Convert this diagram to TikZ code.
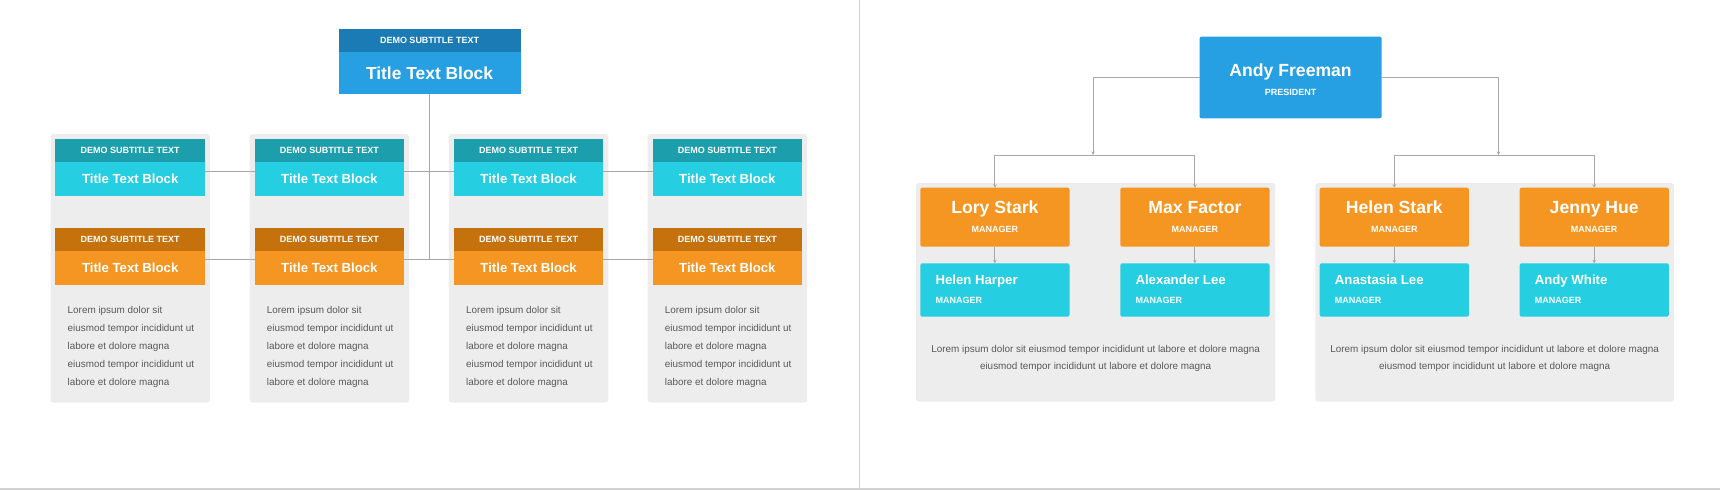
\documentclass[tikz,border=0pt]{standalone}
\usepackage{fontspec}
\setmainfont{Liberation Sans}
\usetikzlibrary{arrows.meta}

\definecolor{bluemain}{HTML}{26A0E2}
\definecolor{blueband}{HTML}{1A7BB5}
\definecolor{cyanmain}{HTML}{25CEE0}
\definecolor{cyanband}{HTML}{1C9EAC}
\definecolor{orangemain}{HTML}{F49621}
\definecolor{orangeband}{HTML}{C5710C}
\definecolor{panelgray}{HTML}{EDEDED}
\definecolor{linegray}{HTML}{A8A8A8}
\definecolor{divgray}{HTML}{D2D2D2}
\definecolor{loremgray}{HTML}{595959}

\newcommand\demosubfont{\fontsize{9}{11}\selectfont\bfseries}
\newcommand\blocktitlefont{\fontsize{13.2}{15}\selectfont\bfseries}
\newcommand\bigtitlefont{\fontsize{17.4}{20}\selectfont\bfseries}
\newcommand\bossfont{\fontsize{17.6}{20}\selectfont\bfseries}
\newcommand\rolefont{\fontsize{9}{11}\selectfont\bfseries}
\newcommand\staffnamefont{\fontsize{13.2}{15}\selectfont\bfseries}
\newcommand\loremfont{\fontsize{9.9}{12}\selectfont}

\begin{document}
\begin{tikzpicture}[x=1pt,y=-1pt,
  box/.style={inner sep=0pt,outer sep=0pt,text=white},
  rbox/.style={box,rounded corners=2pt},
  panel/.style={fill=panelgray,rounded corners=3pt},
  link/.style={draw=linegray,line width=1pt},
  arr/.style={link,-{Stealth[length=3.5pt,width=3.5pt]}},
  txt/.style={inner sep=0pt,text=white},
  lorem/.style={inner sep=0pt,text=loremgray,font=\loremfont}]

\useasboundingbox (0,0) rectangle (1720,490);

%底部和中间的分隔线
\fill[divgray] (0,487.7) rectangle (1720,490);
\draw[divgray,line width=1.5pt] (859.3,0) -- (859.3,487.7);

%左边最上面的蓝色方块
\node[box,fill=bluemain,minimum width=182pt,minimum height=42pt,font=\bigtitlefont] (top) at (429.5,73) {Title Text Block};
\node[box,fill=blueband,minimum width=182pt,minimum height=23pt,anchor=south,font=\demosubfont] (topsub) at (top.north) {DEMO SUBTITLE TEXT};

%四列灰色面板和方块
\foreach \i/\cx in {1/130.2,2/329.4,3/528.6,4/727.4}{
  \fill[panel] (\cx-79.7,134) rectangle (\cx+79.7,402.7);
  \node[box,fill=cyanmain,minimum width=149.7pt,minimum height=34pt,font=\blocktitlefont] (cy\i) at (\cx,179) {Title Text Block};
  \node[box,fill=cyanband,minimum width=149.7pt,minimum height=22.7pt,anchor=south,font=\demosubfont] (cys\i) at (cy\i.north) {DEMO SUBTITLE TEXT};
  \node[box,fill=orangemain,minimum width=149.7pt,minimum height=34.3pt,font=\blocktitlefont] (or\i) at (\cx,268.2) {Title Text Block};
  \node[box,fill=orangeband,minimum width=149.7pt,minimum height=22.7pt,anchor=south,font=\demosubfont] (ors\i) at (or\i.north) {DEMO SUBTITLE TEXT};
  \foreach \t [count=\k] in {Lorem ipsum dolor sit,eiusmod tempor incididunt ut,labore et dolore magna,eiusmod tempor incididunt ut,labore et dolore magna}
    \node[lorem,anchor=base west] (tx\i-\k) at (\cx-62.7,295.3+18*\k) {\t};
}

%横线和中间的竖线
\foreach \a/\b in {1/2,2/3,3/4}{
  \draw[link] ([yshift=7.5pt]cy\a.east) -- ([yshift=7.5pt]cy\b.west);
  \draw[link] ([yshift=8.7pt]or\a.east) -- ([yshift=8.7pt]or\b.west);
}
\coordinate (trunkend) at (429.5,259.5);
\draw[link] (top.south) -- (trunkend);

%右边的灰色面板
\fill[panel] (916,183) rectangle (1275.2,401.7);
\fill[panel] (1315.3,183) rectangle (1674,401.7);

%总裁
\node[rbox,fill=bluemain,minimum width=182.2pt,minimum height=81.6pt] (andy) at (1290.6,77.5) {};
\node[txt,anchor=base,font=\bossfont] (andyname) at ([yshift=1.2pt]andy.center) {Andy Freeman};
\node[txt,anchor=base,font=\rolefont] (andyrole) at ([yshift=-17.5pt]andy.center) {PRESIDENT};

%经理和下面的员工
\foreach \i/\cx/\na/\nb in {1/994.9/Lory Stark/Helen Harper,2/1194.9/Max Factor/Alexander Lee,3/1394.3/Helen Stark/Anastasia Lee,4/1594.2/Jenny Hue/Andy White}{
  \node[rbox,fill=orangemain,minimum width=149.2pt,minimum height=59pt] (mg\i) at (\cx,217.2) {};
  \node[txt,anchor=base,font=\bossfont] (mgname\i) at ([yshift=3.6pt]mg\i.center) {\na};
  \node[txt,anchor=base,font=\rolefont] (mgrole\i) at ([yshift=-15.3pt]mg\i.center) {MANAGER};
  \node[rbox,fill=cyanmain,minimum width=149.2pt,minimum height=53.4pt] (st\i) at (\cx,290) {};
  \node[txt,anchor=base west,font=\staffnamefont] (stname\i) at ([xshift=15pt,yshift=5.3pt]st\i.west) {\nb};
  \node[txt,anchor=base west,font=\rolefont] (strole\i) at ([xshift=15pt,yshift=-13.2pt]st\i.west) {MANAGER};
  \draw[arr] (mg\i.south) -- (st\i.north);
}

%总裁到经理的连线
\coordinate (brL) at (1093,155);
\coordinate (brR) at (1498.5,155);
\draw[arr] (andy.west) -| (brL);
\draw[arr] (andy.east) -| (brR);
\draw[arr] (brL) -| (mg1.north);
\draw[arr] (brL) -| (mg2.north);
\draw[arr] (brR) -| (mg3.north);
\draw[arr] (brR) -| (mg4.north);

%右边面板里的文字
\node[lorem,anchor=base] (lorL1) at (1095.6,352) {Lorem ipsum dolor sit eiusmod tempor incididunt ut labore et dolore magna};
\node[lorem,anchor=base] (lorL2) at (1095.6,369.6) {eiusmod tempor incididunt ut labore et dolore magna};
\node[lorem,anchor=base] (lorR1) at (1494.6,352) {Lorem ipsum dolor sit eiusmod tempor incididunt ut labore et dolore magna};
\node[lorem,anchor=base] (lorR2) at (1494.6,369.6) {eiusmod tempor incididunt ut labore et dolore magna};

\end{tikzpicture}
\end{document}
